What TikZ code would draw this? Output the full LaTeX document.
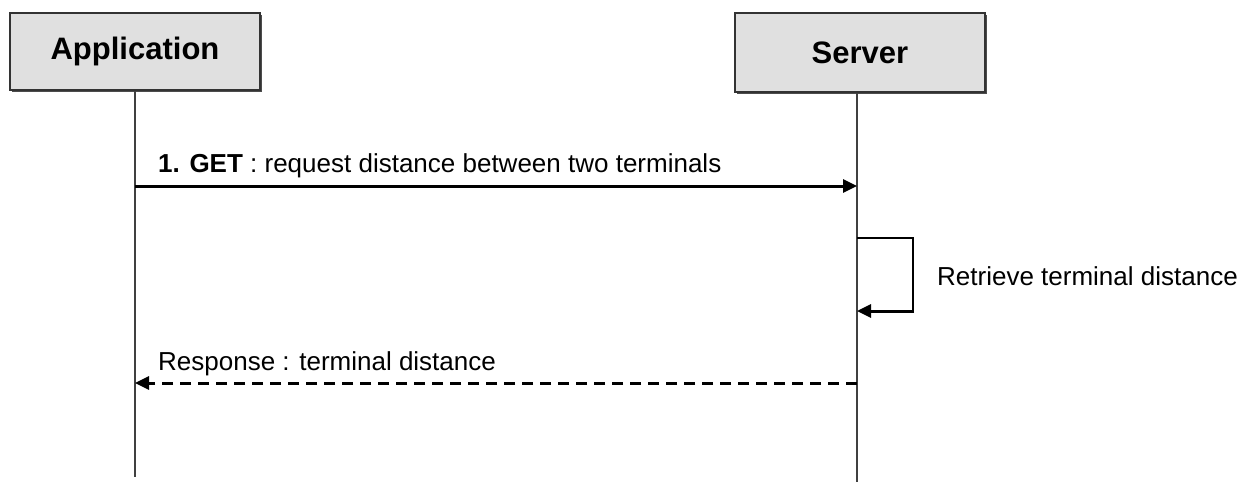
\documentclass[tikz,border=0pt]{standalone}
\usepackage{fontspec}
\setmainfont{Liberation Sans}
\usepackage{tikz}
\usetikzlibrary{arrows.meta}

\begin{document}
\begin{tikzpicture}[x=1pt, y=-1pt, line join=miter, >={Triangle[length=14pt,width=13pt]},
  actor/.style={draw=black!80, fill=black!12, line width=1.5pt, minimum width=250pt,
    minimum height=77pt, inner sep=0pt, font=\fontsize{31}{36}\selectfont\bfseries},
  lifeline/.style={draw=black!75, line width=2pt},
  msg/.style={line width=3pt},
  lbl/.style={anchor=base west, inner sep=0pt, font=\fontsize{26}{30}\selectfont}]
  \useasboundingbox (0,0) rectangle (1252,482);
  % participants
  \fill[black!70] (12,15) rectangle (262,92);
  \fill[black!70] (737,15) rectangle (987,94);
  \node[actor] (app) at (135,51.5) {Application};
  \node[actor, minimum height=79pt] (srv) at (860,52.5) {Server};
  \coordinate (appEnd) at (135,477);
  \coordinate (srvEnd) at (857,482);
  \draw[lifeline] (app.south) -- (appEnd);
  \draw[lifeline] (srv.south -| srvEnd) -- (srvEnd);
  % 1. GET
  \coordinate (getA) at (135,186);
  \coordinate (getB) at (857,186);
  \draw[msg, ->] (getA) -- (getB);
  \node[lbl] (getLbl) at (158,172) {\textbf{1. GET} : request distance between two terminals};
  % self call
  \coordinate (loopA) at (857,238);
  \coordinate (loopB) at (913,238);
  \coordinate (loopC) at (913,311);
  \coordinate (loopD) at (857,311);
  \draw[line width=2pt] (loopA) -- (loopB) -- (loopC);
  \draw[msg, ->] ([xshift=1pt]loopC) -- (loopD);
  \node[lbl] (loopLbl) at (937,285) {Retrieve terminal distance};
  % response
  \coordinate (rspA) at (857,383);
  \coordinate (rspB) at (135,383);
  \draw[msg, ->, dash pattern=on 11pt off 7pt] (rspA) -- (rspB);
  \node[lbl] (rspLbl) at (158,370) {Response : terminal distance};
\end{tikzpicture}
\end{document}
